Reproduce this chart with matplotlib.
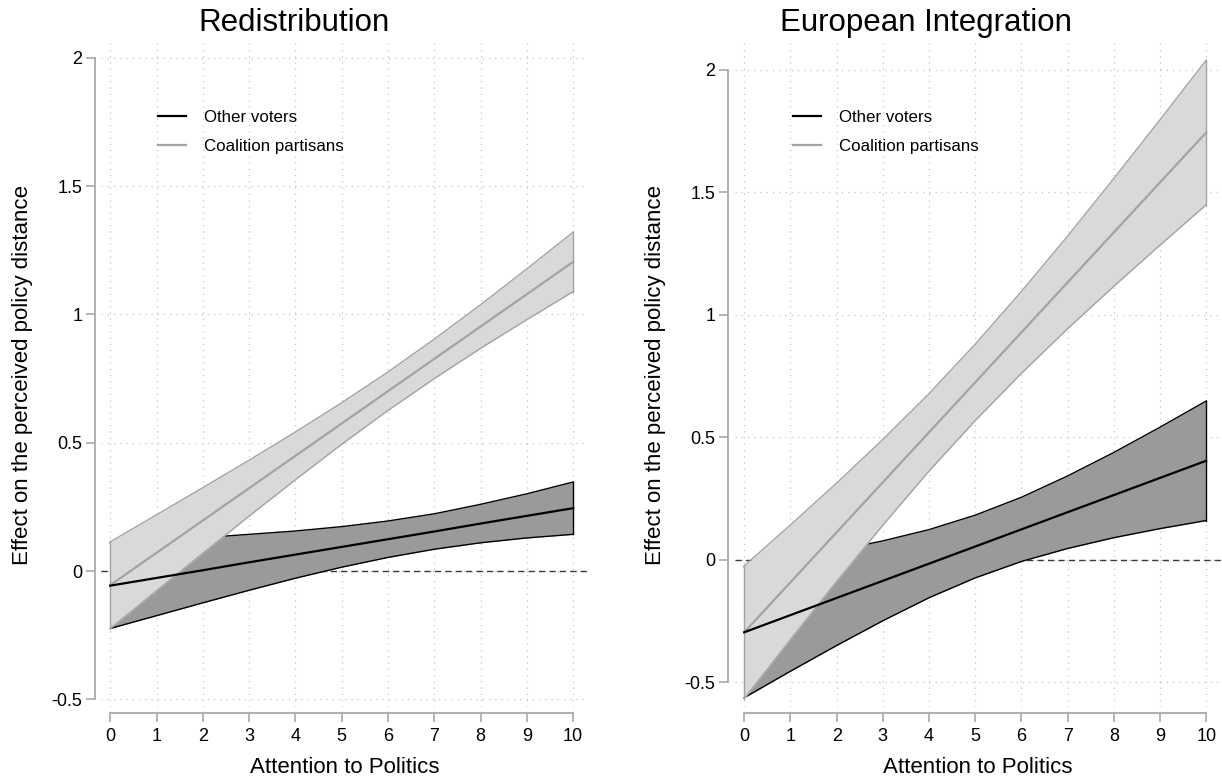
"""Marginal effects of attention to politics on perceived policy distance."""

import matplotlib
matplotlib.use("Agg")
import matplotlib.pyplot as plt
from matplotlib.lines import Line2D

attention = [0, 1, 2, 3, 4, 5, 6, 7, 8, 9, 10]

# Redistribution
redis_other_est = [-0.057, -0.027, 0.003, 0.034, 0.064, 0.094, 0.124, 0.154, 0.185, 0.215, 0.245]
redis_other_lo = [-0.224, -0.174, -0.124, -0.075, -0.028, 0.015, 0.053, 0.085, 0.110, 0.129, 0.143]
redis_other_hi = [0.110, 0.120, 0.130, 0.143, 0.156, 0.173, 0.195, 0.223, 0.260, 0.301, 0.347]
redis_coal_est = [-0.055, 0.071, 0.197, 0.323, 0.449, 0.575, 0.701, 0.827, 0.953, 1.079, 1.205]
redis_coal_lo = [-0.224, -0.077, 0.069, 0.214, 0.356, 0.494, 0.626, 0.750, 0.868, 0.980, 1.089]
redis_coal_hi = [0.114, 0.219, 0.325, 0.432, 0.542, 0.656, 0.776, 0.904, 1.038, 1.178, 1.321]

# European integration
eu_other_est = [-0.295, -0.225, -0.155, -0.085, -0.015, 0.055, 0.125, 0.195, 0.265, 0.335, 0.405]
eu_other_lo = [-0.562, -0.454, -0.349, -0.248, -0.154, -0.073, -0.006, 0.047, 0.091, 0.128, 0.161]
eu_other_hi = [-0.028, 0.004, 0.039, 0.078, 0.124, 0.183, 0.256, 0.343, 0.439, 0.542, 0.649]
eu_coal_est = [-0.295, -0.091, 0.113, 0.317, 0.521, 0.725, 0.929, 1.133, 1.337, 1.541, 1.745]
eu_coal_lo = [-0.566, -0.325, -0.088, 0.142, 0.363, 0.569, 0.762, 0.944, 1.117, 1.285, 1.450]
eu_coal_hi = [-0.024, 0.143, 0.314, 0.492, 0.679, 0.881, 1.096, 1.322, 1.557, 1.797, 2.040]

y_ticks = [-0.5, 0, 0.5, 1, 1.5, 2]
y_tick_labels = ["-0.5", "0", "0.5", "1", "1.5", "2"]
legend_labels = ["Other voters", "Coalition partisans"]

FONT = "Liberation Sans"
DARK_FILL = "#9a9a9a"
LIGHT_FILL = "#d9d9d9"
LIGHT_LINE = "#a3a3a3"
AXIS_GRAY = "#a8a8a8"


def draw_panel(ax, other, coal, ylim, spine_off, legend_x):
    o_est, o_lo, o_hi = other
    c_est, c_lo, c_hi = coal

    ax.set_xlim(-0.2, 10.32)
    ax.set_ylim(*ylim)

    for x in attention:
        ax.axvline(x, color="#c4c4c4", lw=0.9, ls=(0, (1, 4)), zorder=0)
    for y in y_ticks:
        ax.axhline(y, color="#c4c4c4", lw=0.9, ls=(0, (1, 4)), zorder=0)
    ax.axhline(0, color="#3a3a3a", lw=1.0, ls=(0, (4.5, 3)), zorder=1)

    # other voters band (drawn first, partly hidden by the coalition band)
    ax.fill_between(attention, o_lo, o_hi, color=DARK_FILL, lw=0, zorder=2)
    ax.plot(attention, o_lo, color="black", lw=1.0, zorder=2)
    ax.plot(attention, o_hi, color="black", lw=1.0, zorder=2)
    ax.plot([attention[-1], attention[-1]], [o_lo[-1], o_hi[-1]], color="black", lw=1.0, zorder=2)

    ax.fill_between(attention, c_lo, c_hi, color=LIGHT_FILL, lw=0, zorder=3)
    ax.plot(attention, c_lo, color=LIGHT_LINE, lw=1.0, zorder=3)
    ax.plot(attention, c_hi, color=LIGHT_LINE, lw=1.0, zorder=3)
    ax.plot([0, 0], [c_lo[0], c_hi[0]], color=LIGHT_LINE, lw=1.0, zorder=3)
    ax.plot([attention[-1], attention[-1]], [c_lo[-1], c_hi[-1]], color=LIGHT_LINE, lw=1.0, zorder=3)

    ax.plot(attention, c_est, color=LIGHT_LINE, lw=1.6, zorder=4)
    ax.plot(attention, o_est, color="black", lw=1.6, zorder=5)

    for side in ["top", "right"]:
        ax.spines[side].set_visible(False)
    ax.spines["left"].set_position(("outward", spine_off))
    ax.spines["bottom"].set_position(("outward", 4.5))
    ax.spines["left"].set_bounds(-0.5, 2)
    ax.spines["bottom"].set_bounds(0, 10)
    for side in ["left", "bottom"]:
        ax.spines[side].set_color(AXIS_GRAY)
        ax.spines[side].set_linewidth(1.3)

    ax.set_xticks(attention)
    ax.set_yticks(y_ticks)
    ax.set_yticklabels(y_tick_labels)
    ax.tick_params(axis="both", color=AXIS_GRAY, width=1.2, length=6.5,
                   labelsize=13, pad=2.5)
    ax.tick_params(axis="x", pad=4)
    for lab in ax.get_xticklabels() + ax.get_yticklabels():
        lab.set_family(FONT)

    ax.set_xlabel("Attention to Politics", fontsize=16, family=FONT, labelpad=9)
    ax.set_ylabel("Effect on the perceived policy distance", fontsize=16, family=FONT)

    handles = [Line2D([], [], color="black", lw=1.6),
               Line2D([], [], color=LIGHT_LINE, lw=1.6)]
    ax.legend(handles, legend_labels, loc="upper left", bbox_to_anchor=(legend_x, 0.912),
              frameon=False, handlelength=1.65, handletextpad=1.05, labelspacing=0.82,
              borderpad=0, prop={"family": FONT, "size": 12.2})


def main():
    fig = plt.figure(figsize=(12.22, 7.78), dpi=100)
    W, H = 1222, 778

    ax1 = fig.add_axes([101 / W, 1 - 707 / H, 487 / W, 664 / H])
    ax2 = fig.add_axes([735 / W, 1 - 707 / H, 486 / W, 664 / H])

    draw_panel(ax1, (redis_other_est, redis_other_lo, redis_other_hi),
               (redis_coal_est, redis_coal_lo, redis_coal_hi),
               (-0.530, 2.058), 4.5, 0.1)
    draw_panel(ax2, (eu_other_est, eu_other_lo, eu_other_hi),
               (eu_coal_est, eu_coal_lo, eu_coal_hi),
               (-0.600, 2.110), 5.0, 0.102)

    ax1.yaxis.set_label_coords(-0.14, 0.5)
    ax2.yaxis.set_label_coords(-0.142, 0.5)

    fig.text(294 / W, 1 - 23 / H, "Redistribution", ha="center", va="center",
             fontsize=22.5, family=FONT)
    fig.text(926 / W, 1 - 23 / H, "European Integration", ha="center", va="center",
             fontsize=22.5, family=FONT)

    fig.savefig("out.png", dpi=100)
    plt.close(fig)


if __name__ == "__main__":
    main()
